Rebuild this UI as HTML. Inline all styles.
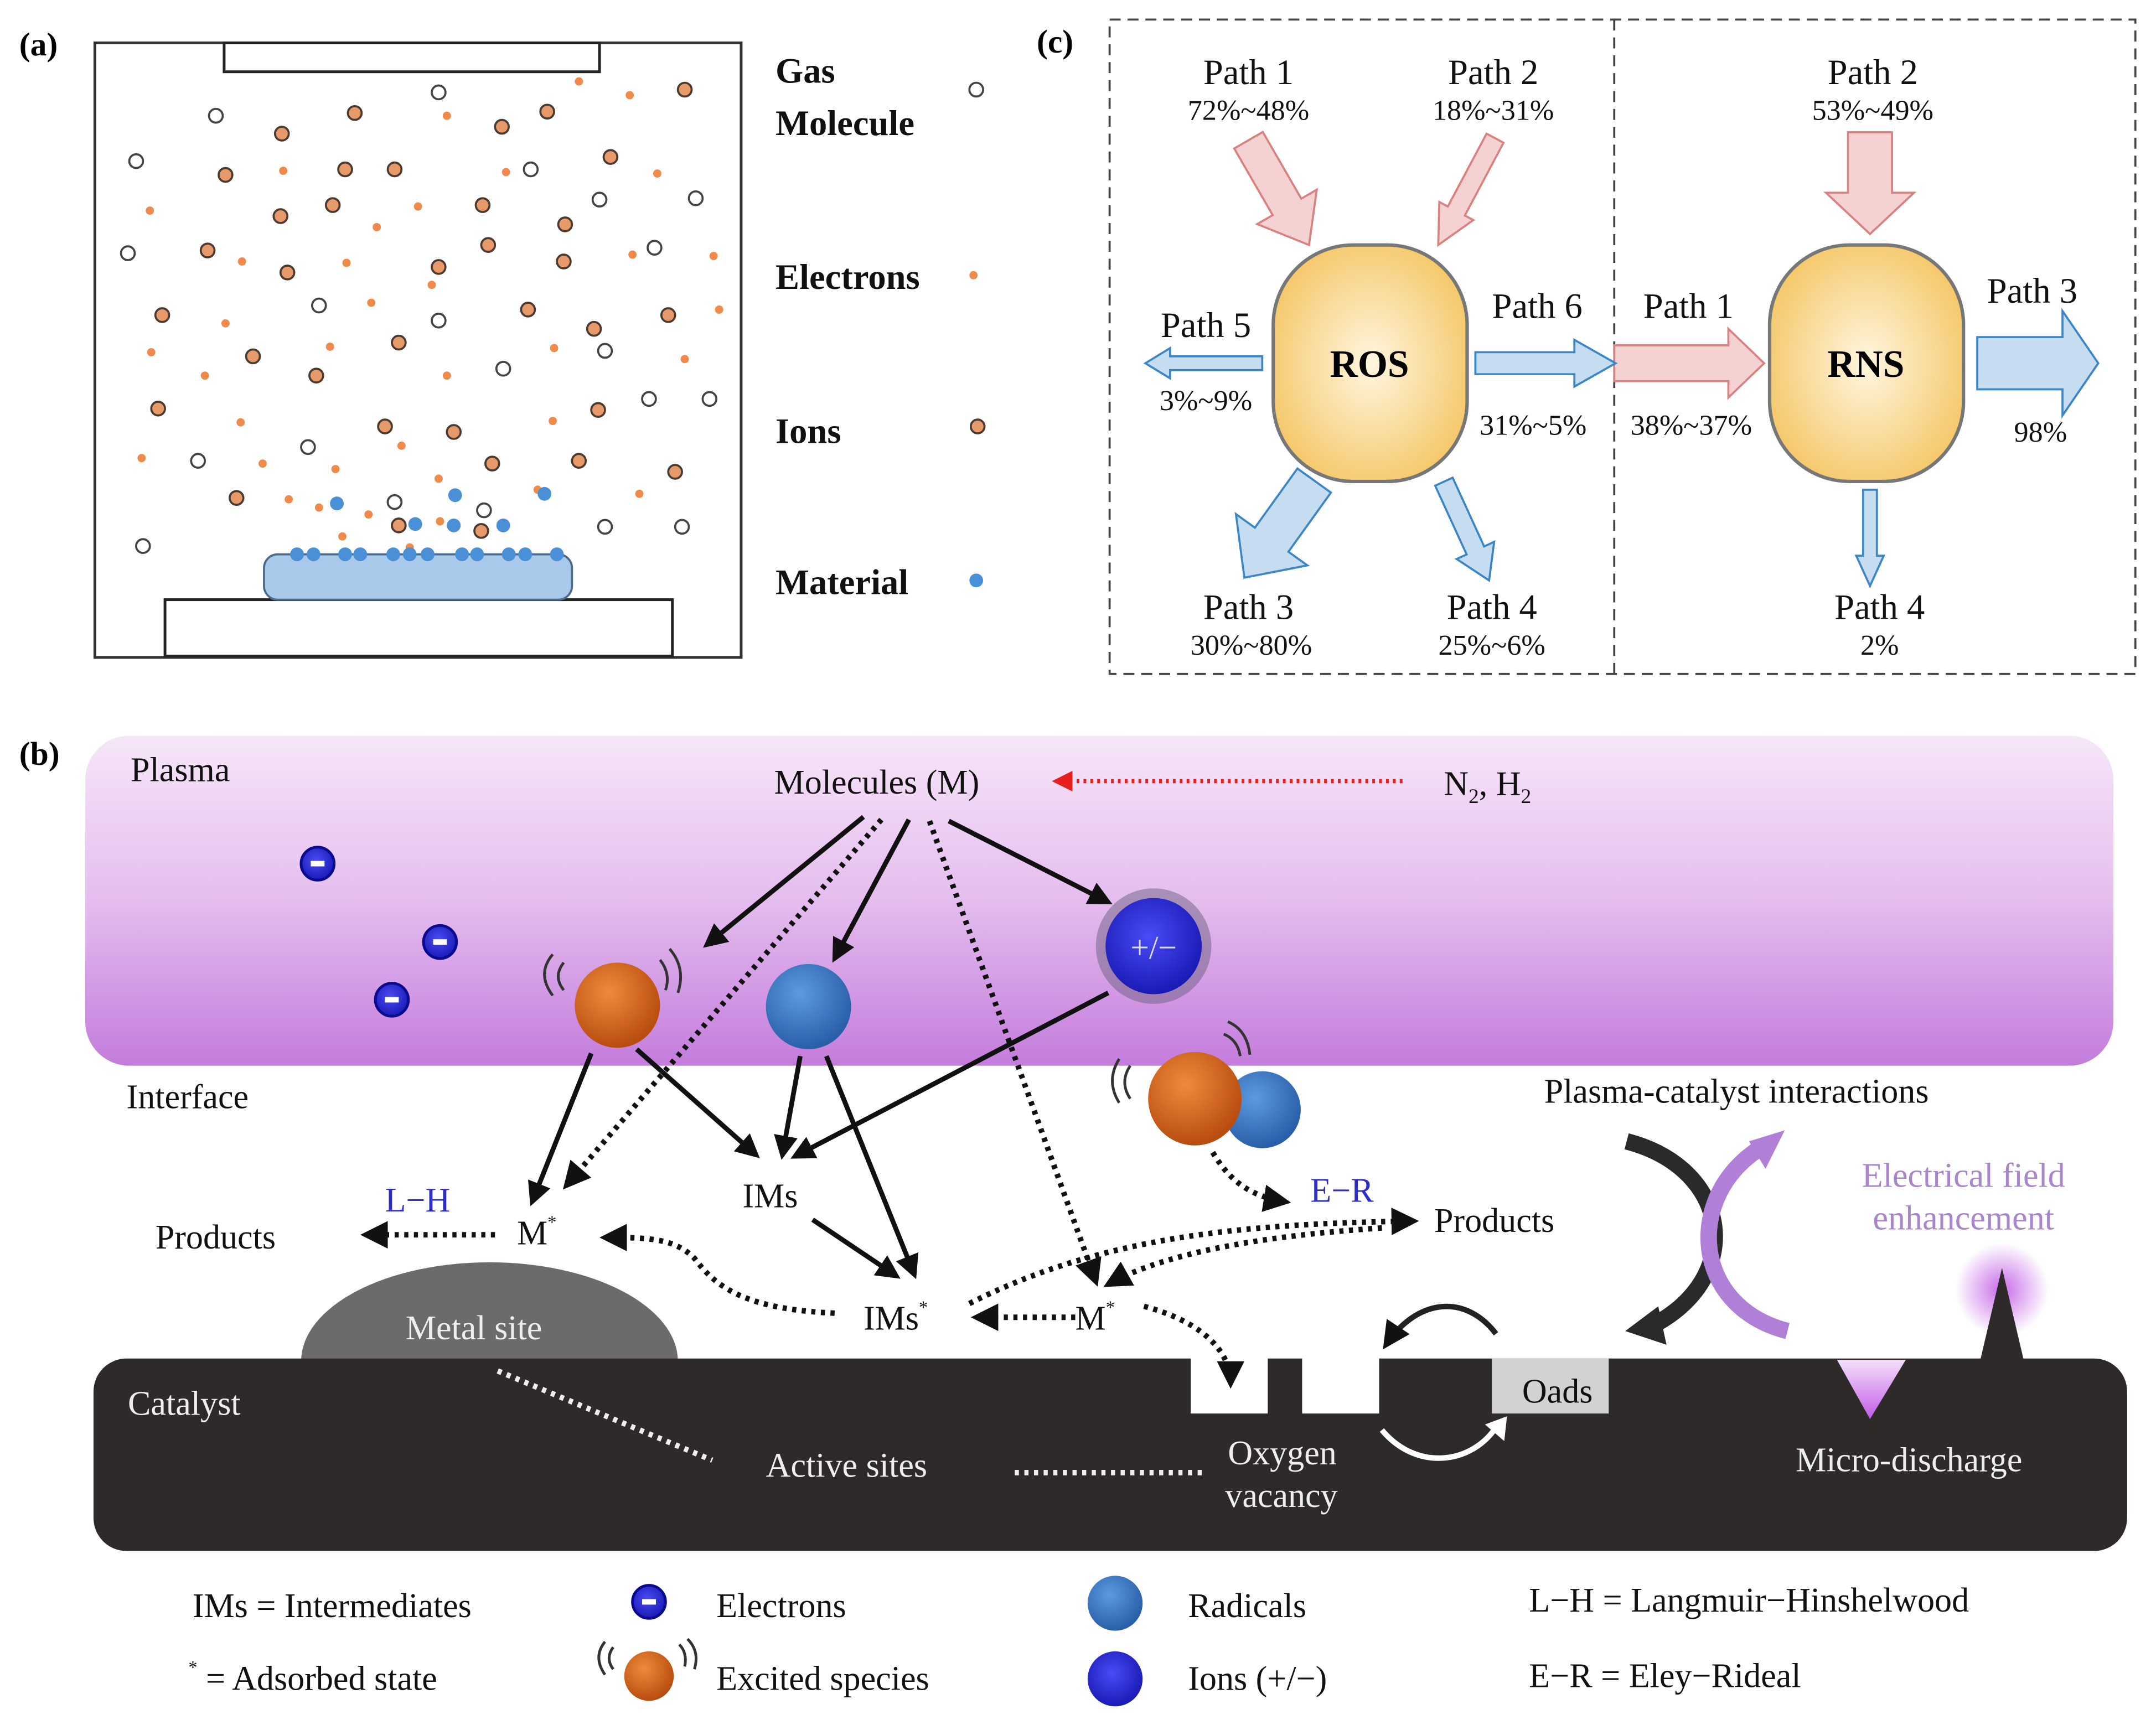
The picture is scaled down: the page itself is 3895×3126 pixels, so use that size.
<!DOCTYPE html>
<html><head><meta charset="utf-8"><style>
html,body{margin:0;padding:0;background:#fff;}
svg{display:block;}
text{font-family:"Liberation Serif",serif;}
</style></head><body>
<svg width="3895" height="3126" viewBox="0 0 1568 1258" xmlns="http://www.w3.org/2000/svg">
<defs>
<radialGradient id="ros" cx="50%" cy="50%" r="60%"><stop offset="0" stop-color="#fff6e0"/><stop offset="1" stop-color="#f4c460"/></radialGradient>
<linearGradient id="plasma" x1="0" y1="0" x2="0" y2="1"><stop offset="0" stop-color="#f6e6f8"/><stop offset="0.5" stop-color="#e4bdee"/><stop offset="1" stop-color="#c47cdc"/></linearGradient>
<radialGradient id="orange" cx="40%" cy="35%" r="65%"><stop offset="0" stop-color="#f08a3a"/><stop offset="1" stop-color="#b84d10"/></radialGradient>
<radialGradient id="blue" cx="40%" cy="35%" r="65%"><stop offset="0" stop-color="#5b9be0"/><stop offset="1" stop-color="#2a5fa8"/></radialGradient>
<radialGradient id="ion" cx="45%" cy="40%" r="60%"><stop offset="0" stop-color="#4a4cf5"/><stop offset="1" stop-color="#1a1ab5"/></radialGradient>
<radialGradient id="glow" cx="50%" cy="50%" r="50%"><stop offset="0" stop-color="#c86ce8"/><stop offset="1" stop-color="#c86ce8" stop-opacity="0"/></radialGradient>
<linearGradient id="vglow" x1="0" y1="0" x2="0" y2="1"><stop offset="0" stop-color="#f3e0fa"/><stop offset="1" stop-color="#c45be8"/></linearGradient>
<marker id="ah" viewBox="0 0 10 10" refX="8" refY="5" markerWidth="5" markerHeight="5" orient="auto"><path d="M0,0 L10,5 L0,10 z" fill="#111"/></marker>
<marker id="ahr" viewBox="0 0 10 10" refX="8" refY="5" markerWidth="5" markerHeight="5" orient="auto"><path d="M0,0 L10,5 L0,10 z" fill="#e8201c"/></marker>
</defs>

<!-- ================= Panel (a) ================= -->
<text x="14" y="40" font-size="24" font-weight="bold">(a)</text>
<rect x="69" y="31" width="470" height="447" fill="none" stroke="#333" stroke-width="2"/>
<rect x="163" y="31" width="273" height="21" fill="#fff" stroke="#222" stroke-width="2"/>
<rect x="120" y="436" width="369" height="41" fill="#fff" stroke="#222" stroke-width="2"/>
<rect x="192" y="403" width="224" height="33" rx="10" fill="#a9c9ea" stroke="#4d6a8a" stroke-width="1.5"/>
<g fill="#e69a6a" stroke="#4a3a30" stroke-width="1.5">
<circle cx="498" cy="65" r="5"/><circle cx="258" cy="82" r="5"/><circle cx="398" cy="81" r="5"/><circle cx="205" cy="97" r="5"/><circle cx="365" cy="92" r="5"/><circle cx="444" cy="114" r="5"/><circle cx="164" cy="127" r="5"/><circle cx="251" cy="123" r="5"/><circle cx="287" cy="123" r="5"/><circle cx="242" cy="149" r="5"/><circle cx="204" cy="157" r="5"/><circle cx="351" cy="149" r="5"/><circle cx="411" cy="163" r="5"/><circle cx="151" cy="182" r="5"/><circle cx="355" cy="178" r="5"/><circle cx="209" cy="198" r="5"/><circle cx="319" cy="194" r="5"/><circle cx="410" cy="190" r="5"/><circle cx="118" cy="229" r="5"/><circle cx="384" cy="225" r="5"/><circle cx="486" cy="229" r="5"/><circle cx="432" cy="239" r="5"/><circle cx="290" cy="249" r="5"/><circle cx="184" cy="259" r="5"/><circle cx="230" cy="273" r="5"/><circle cx="115" cy="297" r="5"/><circle cx="435" cy="298" r="5"/><circle cx="280" cy="310" r="5"/><circle cx="330" cy="314" r="5"/><circle cx="358" cy="337" r="5"/><circle cx="421" cy="335" r="5"/><circle cx="491" cy="343" r="5"/><circle cx="172" cy="362" r="5"/><circle cx="290" cy="382" r="5"/><circle cx="350" cy="386" r="5"/>
<circle cx="711" cy="310" r="5"/>
</g>
<g fill="#ef8a4a">
<circle cx="421" cy="59" r="3"/><circle cx="458" cy="69" r="3"/><circle cx="325" cy="84" r="3"/><circle cx="206" cy="124" r="3"/><circle cx="368" cy="125" r="3"/><circle cx="478" cy="126" r="3"/><circle cx="109" cy="153" r="3"/><circle cx="304" cy="150" r="3"/><circle cx="274" cy="165" r="3"/><circle cx="176" cy="190" r="3"/><circle cx="252" cy="191" r="3"/><circle cx="460" cy="185" r="3"/><circle cx="519" cy="186" r="3"/><circle cx="314" cy="207" r="3"/><circle cx="270" cy="220" r="3"/><circle cx="164" cy="235" r="3"/><circle cx="523" cy="225" r="3"/><circle cx="110" cy="256" r="3"/><circle cx="240" cy="252" r="3"/><circle cx="403" cy="253" r="3"/><circle cx="498" cy="261" r="3"/><circle cx="149" cy="273" r="3"/><circle cx="325" cy="273" r="3"/><circle cx="175" cy="307" r="3"/><circle cx="402" cy="306" r="3"/><circle cx="292" cy="324" r="3"/><circle cx="103" cy="333" r="3"/><circle cx="191" cy="337" r="3"/><circle cx="244" cy="341" r="3"/><circle cx="319" cy="348" r="3"/><circle cx="391" cy="356" r="3"/><circle cx="465" cy="359" r="3"/><circle cx="210" cy="363" r="3"/><circle cx="232" cy="369" r="3"/><circle cx="268" cy="374" r="3"/><circle cx="320" cy="379" r="3"/><circle cx="249" cy="390" r="3"/><circle cx="298" cy="398" r="3"/>
<circle cx="708" cy="200" r="3"/>
</g>
<g fill="#fff" stroke="#444" stroke-width="1.5">
<circle cx="319" cy="67" r="5"/><circle cx="157" cy="84" r="5"/><circle cx="99" cy="117" r="5"/><circle cx="386" cy="123" r="5"/><circle cx="436" cy="145" r="5"/><circle cx="506" cy="144" r="5"/><circle cx="93" cy="184" r="5"/><circle cx="476" cy="180" r="5"/><circle cx="232" cy="222" r="5"/><circle cx="319" cy="233" r="5"/><circle cx="440" cy="255" r="5"/><circle cx="366" cy="268" r="5"/><circle cx="472" cy="290" r="5"/><circle cx="516" cy="290" r="5"/><circle cx="224" cy="325" r="5"/><circle cx="144" cy="335" r="5"/><circle cx="287" cy="365" r="5"/><circle cx="352" cy="371" r="5"/><circle cx="440" cy="383" r="5"/><circle cx="496" cy="383" r="5"/><circle cx="104" cy="397" r="5"/>
<circle cx="710" cy="65" r="5"/>
</g>
<g fill="#4a90d6">
<circle cx="245" cy="366" r="5"/><circle cx="331" cy="360" r="5"/><circle cx="396" cy="359" r="5"/><circle cx="302" cy="381" r="5"/><circle cx="330" cy="382" r="5"/><circle cx="366" cy="382" r="5"/>
<circle cx="216" cy="403" r="5"/><circle cx="228" cy="403" r="5"/><circle cx="251" cy="403" r="5"/><circle cx="262" cy="403" r="5"/><circle cx="286" cy="403" r="5"/><circle cx="298" cy="403" r="5"/><circle cx="311" cy="403" r="5"/><circle cx="336" cy="403" r="5"/><circle cx="347" cy="403" r="5"/><circle cx="370" cy="403" r="5"/><circle cx="382" cy="403" r="5"/><circle cx="405" cy="403" r="5"/>
<circle cx="710" cy="422" r="5"/>
</g>
<g font-size="26" font-weight="bold" fill="#111">
<text x="564" y="60">Gas</text><text x="564" y="98">Molecule</text>
<text x="564" y="210">Electrons</text><text x="564" y="322">Ions</text><text x="564" y="432">Material</text>
</g>

<!-- ================= Panel (c) ================= -->
<text x="754" y="38" font-size="24" font-weight="bold">(c)</text>
<rect x="807" y="14" width="746" height="476" fill="none" stroke="#444" stroke-width="1.5" stroke-dasharray="8,5"/>
<line x1="1174" y1="14" x2="1174" y2="490" stroke="#444" stroke-width="1.5" stroke-dasharray="8,5"/>
<g stroke="#d98080" stroke-width="1.5" fill="#f5d2d2">
<polygon transform="translate(952,178) rotate(60)" points="-88,-12 -32,-12 -32,-25 0,0 -32,25 -32,12 -88,12"/>
<polygon transform="translate(1046,178) rotate(118)" points="-88,-7 -28,-7 -28,-14 0,0 -28,14 -28,7 -88,7"/>
<polygon transform="translate(1360,170) rotate(90)" points="-74,-16 -30,-16 -30,-32 0,0 -30,32 -30,16 -74,16"/>
<polygon transform="translate(1283,264) rotate(0)" points="-109,-13 -26,-13 -26,-25 0,0 -26,25 -26,13 -109,13"/>
</g>
<g stroke="#3b86c6" stroke-width="1.5" fill="#c6ddf1">
<polygon transform="translate(833,264) rotate(180)" points="-85,-5 -18,-5 -18,-11 0,0 -18,11 -18,5 -85,5"/>
<polygon transform="translate(1175,264) rotate(0)" points="-102,-8 -30,-8 -30,-17 0,0 -30,17 -30,8 -102,8"/>
<polygon transform="translate(1526,264) rotate(0)" points="-88,-19 -26,-19 -26,-38 0,0 -26,38 -26,19 -88,19"/>
<polygon transform="translate(905,420) rotate(125.7)" points="-87,-15 -34,-15 -34,-32 0,0 -34,32 -34,15 -87,15"/>
<polygon transform="translate(1083,422) rotate(65.4)" points="-79,-7 -24,-7 -24,-15 0,0 -24,15 -24,7 -79,7"/>
<polygon transform="translate(1360,426) rotate(90)" points="-70,-5 -22,-5 -22,-10 0,0 -22,10 -22,5 -70,5"/>
</g>
<rect x="926" y="178" width="141" height="172" rx="58" fill="url(#ros)" stroke="#777" stroke-width="2.5"/>
<rect x="1287" y="178" width="141" height="172" rx="58" fill="url(#ros)" stroke="#777" stroke-width="2.5"/>
<g font-size="28" font-weight="bold" text-anchor="middle"><text x="996" y="274">ROS</text><text x="1357" y="274">RNS</text></g>
<g font-size="26" text-anchor="middle" fill="#111">
<text x="908" y="61">Path 1</text><text x="1086" y="61">Path 2</text><text x="1362" y="61">Path 2</text>
<text x="877" y="245">Path 5</text><text x="1118" y="231">Path 6</text><text x="1228" y="231">Path 1</text><text x="1478" y="220">Path 3</text>
<text x="908" y="450">Path 3</text><text x="1085" y="450">Path 4</text><text x="1367" y="450">Path 4</text>
</g>
<g font-size="21" text-anchor="middle" fill="#111">
<text x="908" y="87">72%~48%</text><text x="1086" y="87">18%~31%</text><text x="1362" y="87">53%~49%</text>
<text x="877" y="298">3%~9%</text><text x="1115" y="316">31%~5%</text><text x="1230" y="316">38%~37%</text><text x="1484" y="321">98%</text>
<text x="910" y="476">30%~80%</text><text x="1085" y="476">25%~6%</text><text x="1367" y="476">2%</text>
</g>

<!-- ================= Panel (b) ================= -->
<text x="14" y="556" font-size="24" font-weight="bold">(b)</text>
<rect x="62" y="535" width="1475" height="240" rx="32" fill="url(#plasma)"/>
<ellipse cx="356" cy="990" rx="137" ry="72" fill="#6c6a6a"/>
<rect x="68" y="988" width="1479" height="140" rx="24" fill="#2e2a2a"/>
<rect x="866" y="986" width="56" height="42" fill="#fff"/>
<rect x="947" y="986" width="56" height="42" fill="#fff"/>
<rect x="1085" y="988" width="85" height="40" fill="#d2d2d2"/>
<polygon points="1336,989 1386,989 1360,1032" fill="url(#vglow)"/>
<circle cx="1456" cy="938" r="34" fill="url(#glow)"/>
<polygon points="1440,990 1472,990 1456,922" fill="#2e2a2a"/>

<g font-size="25" fill="#111">
<text x="95" y="568">Plasma</text>
<text x="92" y="806">Interface</text>
<text x="563" y="577">Molecules (M)</text>
<text x="1050" y="578">N<tspan font-size="15" dy="6">2</tspan><tspan dy="-6">, H</tspan><tspan font-size="15" dy="6">2</tspan></text>
<text x="540" y="878">IMs</text>
<text x="376" y="905">M<tspan font-size="13" dy="-12">*</tspan></text>
<text x="113" y="908">Products</text>
<text x="628" y="967">IMs<tspan font-size="13" dy="-12">*</tspan></text>
<text x="782" y="967">M<tspan font-size="13" dy="-12">*</tspan></text>
<text x="1043" y="896">Products</text>
<text x="1123" y="802">Plasma-catalyst interactions</text>
<text x="1107" y="1020">Oads</text>
</g>
<g font-size="25" fill="#2d2dc8"><text x="280" y="881">L−H</text><text x="953" y="874">E−R</text></g>
<g font-size="25" fill="#a986cc" text-anchor="middle"><text x="1428" y="863">Electrical field</text><text x="1428" y="894">enhancement</text></g>
<g font-size="25" fill="#eee">
<text x="93" y="1029">Catalyst</text>
<text x="295" y="974">Metal site</text>
<text x="557" y="1074">Active sites</text>
<text x="893" y="1065">Oxygen</text>
<text x="891" y="1096">vacancy</text>
<text x="1306" y="1070">Micro-discharge</text>
</g>

<line x1="1020" y1="568" x2="768" y2="568" stroke="#e8201c" stroke-width="3" stroke-dasharray="2,3" marker-end="url(#ahr)"/>

<g>
<circle cx="231" cy="628" r="12" fill="url(#ion)" stroke="#0a0a90" stroke-width="2"/><rect x="226" y="626" width="10" height="4" fill="#fff"/>
<circle cx="320" cy="685" r="12" fill="url(#ion)" stroke="#0a0a90" stroke-width="2"/><rect x="315" y="683" width="10" height="4" fill="#fff"/>
<circle cx="285" cy="727" r="12" fill="url(#ion)" stroke="#0a0a90" stroke-width="2"/><rect x="280" y="725" width="10" height="4" fill="#fff"/>
</g>
<circle cx="449" cy="731" r="31" fill="url(#orange)"/>
<g fill="none" stroke="#333" stroke-width="2"><path d="M410,700 q-8,10 0,20"/><path d="M402,694 q-12,14 0,30"/><path d="M480,698 q8,10 4,22"/><path d="M487,690 q12,14 6,32"/></g>
<circle cx="588" cy="732" r="31" fill="url(#blue)"/>
<circle cx="839" cy="688" r="42" fill="#6a6080" opacity="0.5"/>
<circle cx="839" cy="688" r="35" fill="url(#ion)"/>
<text x="839" y="697" font-size="24" fill="#dde" text-anchor="middle">+/−</text>
<circle cx="918" cy="807" r="28" fill="url(#blue)"/>
<circle cx="869" cy="799" r="34" fill="url(#orange)"/>
<g fill="none" stroke="#333" stroke-width="2"><path d="M822,775 q-8,12 0,24"/><path d="M814,770 q-10,16 0,32"/><path d="M890,752 q10,4 12,16"/><path d="M893,743 q14,6 16,24"/></g>

<g stroke="#111" stroke-width="3.5" fill="none" marker-end="url(#ah)">
<line x1="628" y1="594" x2="514" y2="687"/>
<line x1="661" y1="596" x2="607" y2="697"/>
<line x1="690" y1="597" x2="806" y2="656"/>
<line x1="430" y1="766" x2="387" y2="874"/>
<line x1="463" y1="763" x2="550" y2="840"/>
<line x1="582" y1="768" x2="569" y2="840"/>
<line x1="601" y1="768" x2="665" y2="927"/>
<line x1="806" y1="722" x2="578" y2="841"/>
<line x1="591" y1="887" x2="652" y2="928"/>
</g>
<g stroke="#111" stroke-width="4" stroke-dasharray="3,4" fill="none" marker-end="url(#ah)">
<line x1="641" y1="596" x2="412" y2="862"/>
<line x1="676" y1="597" x2="797" y2="932"/>
<line x1="360" y1="898" x2="266" y2="898"/>
<path d="M607,955 C540,952 520,935 505,915 C490,900 470,900 440,900"/>
<line x1="782" y1="958" x2="710" y2="958"/>
<path d="M882,838 C895,860 910,870 935,874"/>
<path d="M705,948 C800,900 900,890 1028,888"/>
<path d="M1005,893 C900,900 840,915 806,934"/>
<path d="M832,950 C870,960 895,980 895,1006"/>
</g>
<g stroke="#eee" stroke-width="4" stroke-dasharray="3,4" fill="none">
<line x1="362" y1="997" x2="518" y2="1062"/>
<line x1="738" y1="1071" x2="875" y2="1071"/>
</g>
<path d="M1088,970 C1065,940 1030,945 1008,978" stroke="#222" stroke-width="4" fill="none" marker-end="url(#ah)"/>
<path d="M1005,1040 C1030,1070 1070,1065 1088,1038" stroke="#fff" stroke-width="4" fill="none"/>
<polygon points="1080,1036 1096,1030 1094,1048" fill="#fff"/>
<path d="M1183,830 C1260,850 1270,930 1200,965" stroke="#2a2a2a" stroke-width="12" fill="none"/>
<polygon points="1182,968 1206,950 1212,978" fill="#2a2a2a"/>
<path d="M1300,968 C1230,950 1225,870 1280,835" stroke="#b07fd8" stroke-width="12" fill="none"/>
<polygon points="1298,822 1272,830 1284,850" fill="#b07fd8"/>

<g font-size="25" fill="#111">
<text x="140" y="1176">IMs = Intermediates</text>
<text x="137" y="1229"><tspan font-size="13" dy="-12">*</tspan><tspan dy="12"> = Adsorbed state</tspan></text>
<text x="521" y="1176">Electrons</text>
<text x="521" y="1229">Excited species</text>
<text x="864" y="1176">Radicals</text>
<text x="864" y="1229">Ions (+/−)</text>
<text x="1112" y="1172">L−H = Langmuir−Hinshelwood</text>
<text x="1112" y="1227">E−R = Eley−Rideal</text>
</g>
<circle cx="472" cy="1165" r="12" fill="url(#ion)" stroke="#0a0a90" stroke-width="2"/><rect x="467" y="1163" width="10" height="4" fill="#fff"/>
<circle cx="472" cy="1219" r="18" fill="url(#orange)"/>
<g fill="none" stroke="#333" stroke-width="2"><path d="M446,1198 q-6,8 0,16"/><path d="M440,1194 q-9,11 0,24"/><path d="M494,1196 q6,6 4,16"/><path d="M500,1192 q9,9 5,22"/></g>
<circle cx="811" cy="1166" r="20" fill="url(#blue)"/>
<circle cx="811" cy="1221" r="20" fill="url(#ion)"/>
</svg>
</body></html>
